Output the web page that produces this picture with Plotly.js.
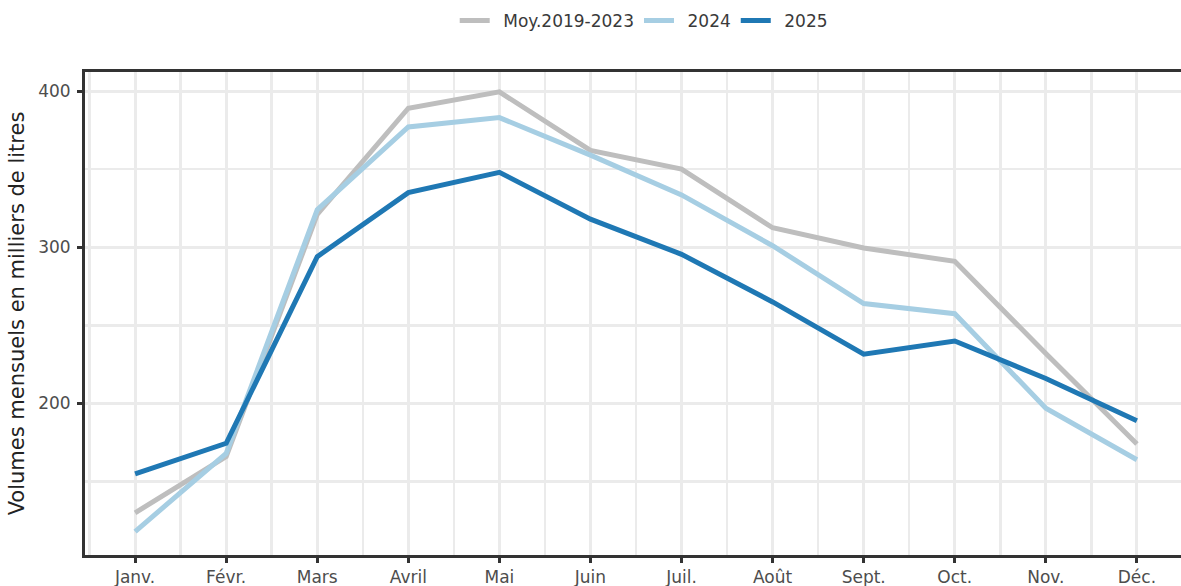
<!DOCTYPE html>
<html>
<head>
<meta charset="utf-8">
<script src="https://cdn.plot.ly/plotly-3.0.1.min.js"></script>
<style>
  html, body { margin: 0; padding: 0; background: #fff; overflow: hidden; }
  #graph { width: 1190px; height: 586px; }
</style>
</head>
<body>
<div id="graph"></div>
<script>
// monthly volumes, thousands of litres
var months = ['Janv.', 'Févr.', 'Mars', 'Avril', 'Mai', 'Juin', 'Juil.', 'Août', 'Sept.', 'Oct.', 'Nov.', 'Déc.'];
var seriesNames = ['Moy.2019-2023', '2024', '2025'];
var moy2019_2023 = [130, 166, 321, 389, 399.5, 362, 350, 312.5, 299.5, 291, 232, 174];
var vol2024 = [118, 168, 324, 377, 383, 359, 333.5, 301, 264, 257.5, 197, 164];
var vol2025 = [155, 174.5, 294, 335, 348, 318, 295.5, 265, 231.5, 240, 216, 189];

var xIdx = months.map(function (m, i) { return i; });

function makeTrace(name, values, color) {
    return {
        x: xIdx,
        y: values,
        // en space so the legend text sits a bit off the swatch
        name: '\u2002' + name,
        type: 'scatter',
        mode: 'lines',
        line: { color: color, width: 5 },
        hoverinfo: 'x+y'
    };
}

var data = [
    makeTrace(seriesNames[0], moy2019_2023, '#BEBEBE'),
    makeTrace(seriesNames[1], vol2024, '#A6CEE3'),
    makeTrace(seriesNames[2], vol2025, '#1F78B4')
];

var axisFont = { family: 'DejaVu Sans', size: 17, color: '#4D4D4D' };

var layout = {
    width: 1190,
    height: 586,
    margin: { l: 85, r: 3, t: 72, b: 31 },
    paper_bgcolor: '#ffffff',
    plot_bgcolor: '#ffffff',
    font: { family: 'DejaVu Sans', size: 17, color: '#333333' },
    showlegend: true,
    legend: {
        orientation: 'h',
        x: 0.507, xanchor: 'center',
        y: 1.143, yanchor: 'top',
        font: { family: 'DejaVu Sans', size: 17, color: '#3a3a3a' }
    },
    xaxis: {
        range: [-0.55, 11.55],
        tickmode: 'array',
        tickvals: xIdx,
        ticktext: months,
        tickfont: axisFont,
        ticks: 'outside', ticklen: 5, tickwidth: 3, tickcolor: '#333333',
        showline: true, linecolor: '#333333', linewidth: 3, mirror: true,
        showgrid: true, gridcolor: '#EBEBEB', gridwidth: 3,
        minor: { tickmode: 'linear', tick0: 0.5, dtick: 1, showgrid: true, gridcolor: '#EBEBEB', gridwidth: 2.5, ticks: '' },
        zeroline: false,
        automargin: false
    },
    yaxis: {
        range: [103, 412.2],
        tick0: 0, dtick: 100,
        tickfont: axisFont,
        ticks: 'outside', ticklen: 5, tickwidth: 3, tickcolor: '#333333',
        ticklabelstandoff: 3,
        showline: true, linecolor: '#333333', linewidth: 3, mirror: true,
        showgrid: true, gridcolor: '#EBEBEB', gridwidth: 3,
        minor: { tick0: 150, dtick: 100, showgrid: true, gridcolor: '#EBEBEB', gridwidth: 2.5, ticks: '' },
        zeroline: false,
        automargin: false,
        title: {
            text: 'Volumes mensuels en milliers de litres',
            font: { family: 'DejaVu Sans', size: 21, color: '#222222' },
            standoff: 8
        }
    }
};

Plotly.newPlot('graph', data, layout, { displayModeBar: false, staticPlot: true });
</script>
</body>
</html>
